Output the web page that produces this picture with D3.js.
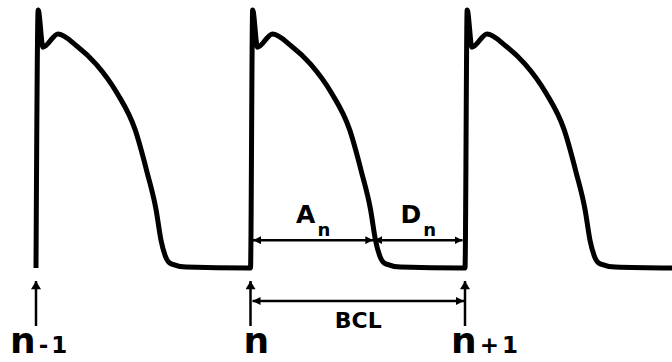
<!DOCTYPE html>
<html>
<head>
<meta charset="utf-8">
<script src="https://cdn.jsdelivr.net/npm/d3@7"></script>
<style>
  html, body { margin: 0; padding: 0; background: #fff; }
  svg { display: block; }
  text { font-family: "DejaVu Sans", Verdana, sans-serif; font-weight: bold; fill: #000; }
</style>
</head>
<body>
<svg id="chart" width="672" height="362"></svg>
<script>
// Pacing protocol: stimulus times (ms) and the basic cycle length
const beatOnsets = [0, 400, 800];
const bcl = 400;
// Action potential duration of beat n (ms)
const apd = 229;

// One action-potential waveform: time after the upstroke (ms) and membrane voltage (mV)
const apTime    = [0, 4, 13, 41, 76, 112, 151, 185, 207, 224, 233, 241, 252, 280, 395];
const apVoltage = [-85, 40, 22, 28.4, 22.6, 13.8, -0.2, -18.1, -38.5, -56.9, -71.4, -79.1, -83, -84.5, -85];

// Stimulus labels under each beat
const beatLabels = [
  { main: "n", suffix: "-1" },
  { main: "n", suffix: "" },
  { main: "n", suffix: "+1" }
];
// Interval annotation labels
const intervalLabels = { apd: ["A", "n"], di: ["D", "n"], cycle: "BCL" };
// Membrane level at which the APD / DI intervals are measured (mV)
const measureLevel = -71.5;

const svg = d3.select("#chart");

const x = d3.scaleLinear().domain([0, 800]).range([36, 465]);
const y = d3.scaleLinear().domain([-85, 40]).range([268, 10]);

// Arrowhead markers for the dimension lines and the stimulus arrows
const defs = svg.append("defs");
defs.append("marker")
  .attr("id", "head")
  .attr("viewBox", "0 0 10 10")
  .attr("refX", 10).attr("refY", 5)
  .attr("markerUnits", "userSpaceOnUse")
  .attr("markerWidth", 8).attr("markerHeight", 8)
  .attr("orient", "auto-start-reverse")
  .append("path").attr("d", "M0,0L10,5L0,10Z").attr("fill", "#000");
defs.append("marker")
  .attr("id", "stim")
  .attr("viewBox", "0 0 10 12")
  .attr("refX", 10).attr("refY", 6)
  .attr("markerUnits", "userSpaceOnUse")
  .attr("markerWidth", 11).attr("markerHeight", 10)
  .attr("orient", "auto")
  .append("path").attr("d", "M0,0L10,6L0,12Z").attr("fill", "#000");

// Voltage trace: the waveform repeated at every stimulus
const tracePoints = [];
beatOnsets.forEach(t0 => {
  apTime.forEach((t, i) => tracePoints.push([t0 + t, apVoltage[i]]));
});

const line = d3.line()
  .x(d => x(d[0]))
  .y(d => y(d[1]))
  .curve(d3.curveMonotoneX);

svg.append("path")
  .datum(tracePoints)
  .attr("d", line)
  .attr("fill", "none")
  .attr("stroke", "#000")
  .attr("stroke-width", 5)
  .attr("stroke-linejoin", "round")
  .attr("stroke-linecap", "butt");

// APD and DI dimension lines for beat n
const tn = beatOnsets[1];
const yMeasure = y(measureLevel);
const dims = [
  { x1: x(tn) + 2.5, x2: x(tn + apd), label: intervalLabels.apd },
  { x1: x(tn + apd) + 1, x2: x(tn + bcl) - 2.5, label: intervalLabels.di }
];
dims.forEach(d => {
  svg.append("line")
    .attr("x1", d.x1).attr("x2", d.x2)
    .attr("y1", yMeasure).attr("y2", yMeasure)
    .attr("stroke", "#000").attr("stroke-width", 2.5)
    .attr("marker-start", "url(#head)")
    .attr("marker-end", "url(#head)");
  const t = svg.append("text")
    .attr("x", (d.x1 + d.x2) / 2)
    .attr("y", yMeasure - 17)
    .attr("text-anchor", "middle");
  t.append("tspan").attr("font-size", 25).text(d.label[0]);
  t.append("tspan").attr("font-size", 18).attr("dx", 2).attr("dy", 13).text(d.label[1]);
});

// Stimulus arrows with their beat labels
const arrowTop = 281, arrowBottom = 326, labelBaseline = 353;
const labelShift = [-26, -7, -14];
beatOnsets.forEach((t0, i) => {
  const xs = x(t0);
  svg.append("line")
    .attr("x1", xs).attr("x2", xs)
    .attr("y1", arrowBottom).attr("y2", arrowTop)
    .attr("stroke", "#000").attr("stroke-width", 2.5)
    .attr("marker-end", "url(#stim)");
  const t = svg.append("text")
    .attr("x", xs + labelShift[i])
    .attr("y", labelBaseline);
  t.append("tspan").attr("font-size", 36).text(beatLabels[i].main);
  if (beatLabels[i].suffix) {
    t.append("tspan").attr("font-size", 23).attr("dx", 3)
      .attr("letter-spacing", 3).text(beatLabels[i].suffix);
  }
});

// Basic cycle length between beats n and n+1
const yCycle = 301;
const c1 = x(beatOnsets[1]) + 2, c2 = x(beatOnsets[2]) - 1;
svg.append("line")
  .attr("x1", c1).attr("x2", c2)
  .attr("y1", yCycle).attr("y2", yCycle)
  .attr("stroke", "#000").attr("stroke-width", 2.5)
  .attr("marker-start", "url(#head)")
  .attr("marker-end", "url(#head)");
svg.append("text")
  .attr("x", (c1 + c2) / 2)
  .attr("y", 328)
  .attr("text-anchor", "middle")
  .attr("font-size", 22)
  .text(intervalLabels.cycle);
</script>
</body>
</html>
